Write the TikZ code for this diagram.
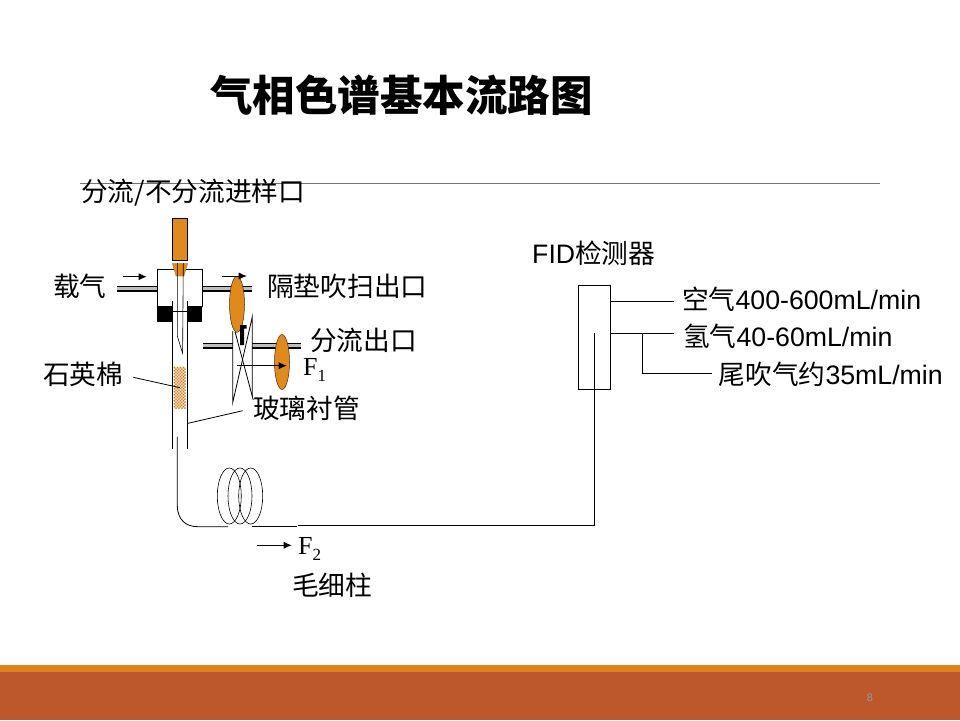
\documentclass[tikz,border=0pt]{standalone}
\usepackage{fontspec}
\usepackage{xcolor}
\usepackage{tikz}
\usetikzlibrary{arrows.meta,shapes.geometric}
\setmainfont{Liberation Sans}
\newfontfamily\cjk{Noto Sans CJK SC}
\newfontfamily\timesfont{Liberation Serif}
\definecolor{barorange}{HTML}{DF8419}
\definecolor{barbrown}{HTML}{BD582C}
\definecolor{partorange}{HTML}{E08A1E}
\newcommand{\flowsub}[1]{\raisebox{-5.5pt}{\fontsize{17}{17}\selectfont #1}}
\begin{document}
\begin{tikzpicture}[x=1pt,y=-1pt,
  label/.style={anchor=west,inner sep=0pt,font=\fontsize{26.7}{26.7}\selectfont},
  flow label/.style={label,font=\timesfont\fontsize{26}{26}\selectfont},
  flowarrow/.style={-{Latex[length=8pt,width=7pt]},line width=0.7pt},
  thin line/.style={line width=0.8pt},
  pipe/.style={draw=black,line width=1.4pt,double=black!25,double distance=3pt},
  valve/.style={ellipse,draw=black!70!partorange,fill=partorange,line width=0.5pt,inner sep=0pt}]
  \useasboundingbox (0,0) rectangle (960,720);
  \fill[barorange] (0,665) rectangle (960,672);
  \fill[barbrown] (0,672) rectangle (960,720);
  \node[inner sep=0pt,text=black!40,font=\fontsize{11}{11}\selectfont] (pagenum) at (870,698) {8};
  \draw[black!55,line width=0.7pt] (80,183) -- (880,183);
  \node[anchor=west,inner sep=0pt,font=\cjk\bfseries\fontsize{42.5}{42.5}\selectfont] (title) at (210,95) {气相色谱基本流路图};
  % injector
  \draw[pipe] (117,288.8) -- (157.3,288.8);
  \draw[pipe] (202.7,288.8) -- (251.7,288.8);
  \draw[pipe] (202.5,345.7) -- (232.7,345.7);
  \draw[pipe] (252.3,345.7) -- (301,345.7);
  \draw[thin line] (172.3,306) -- (157.3,306) -- (157.3,269.3) -- (202.7,269.3) -- (202.7,306) -- (187.7,306);
  \fill (157.3,306) rectangle (172.3,321.7);
  \fill (187.7,306) rectangle (202.4,321.7);
  \draw[line width=0.5pt,fill=partorange] (172.3,218.3) rectangle (187.7,260.3);
  \draw[line width=0.3pt,draw=partorange!80!black,fill=partorange] (172.3,263.3) -- (187.7,263.3) -- (184,276) -- (176,276) -- cycle;
  \draw[thin line] (172.5,300.7) -- (172.5,449.3) (187.5,300.7) -- (187.5,449.3) (172.5,311) -- (187.5,311);
  \draw[line width=0.6pt] (177.3,263) -- (177.3,336) -- (182.6,353.3) -- (183.3,263);
  \foreach \wx in {174.5,177.5,...,186}
    \foreach \wy in {367.5,370.5,...,407}
      \fill[partorange!90!black] (\wx,\wy) circle (1) (\wx+1.5,\wy+1.5) circle (1);
  % split vent
  \draw[thin line] (232.7,331) -- (232.7,402.7) -- (252.3,316.7) -- (252.3,396.7);
  \draw[thin line] (235,331.7) -- (253.3,400);
  \node[valve,minimum width=15pt,minimum height=56pt] (septumvalve) at (237,304.3) {};
  \node[valve,minimum width=15pt,minimum height=55pt] (splitvalve) at (282,362) {};
  \fill (240,325) rectangle (244,345) (240,325) rectangle (246.7,328.5);
  \coordinate (splitflow) at (237.3,365.7);
  \coordinate (splitend) at (286.7,365.7);
  \draw[flowarrow] (splitflow) -- (splitend);
  \draw[flowarrow] (122.7,276.7) -- (146.7,276.7);
  \draw[flowarrow] (222.3,276) -- (246.7,276);
  % column
  \coordinate (coilin) at (228,526.7);
  \coordinate (coilout) at (251.7,526);
  \draw[thin line] (177.3,436.7) -- (177.3,505) .. controls (177.3,520) and (186,526.7) .. (198,526.7) -- (coilin);
  \foreach \cx in {229.3,240,250.7}
    \draw[line width=0.6pt] (\cx,496) ellipse (12 and 28);
  \draw[thin line] (coilout) -- (296.7,526);
  % detector
  \node[draw,thin line,minimum width=32.4pt,minimum height=104pt,inner sep=0pt] (det) at (594.5,337.3) {};
  \coordinate (detin) at (594.5,333.3);
  \coordinate (airend) at (674.3,301.3);
  \coordinate (hydend) at (674.3,333);
  \coordinate (makeup) at (642.3,333);
  \draw[thin line] (298.3,525) -- (594.5,525) -- (detin);
  \draw[thin line] (det.east |- airend) -- (airend);
  \draw[thin line] (det.east |- hydend) -- (hydend);
  \draw[thin line] (makeup) -- (642.3,373.3) -- (712,373.3);
  % labels
  \node[label] (carrier) at (53,286) {\cjk 载气};
  \node[label] (septum) at (267,286) {\cjk 隔垫吹扫出口};
  \node[label] (split) at (310,340) {\cjk 分流出口};
  \node[label] (wool) at (43,374) {\cjk 石英棉};
  \node[label] (liner) at (253,408) {\cjk 玻璃衬管};
  \node[label] (inlet) at (81,192.5) {\cjk 分流/不分流进样口};
  \node[label] (fid) at (532,253) {FID{\cjk 检测器}};
  \node[label] (air) at (682,299) {{\cjk 空气}400-600mL/min};
  \node[label] (hyd) at (683,336) {{\cjk 氢气}40-60mL/min};
  \node[label] (tail) at (718.5,374) {{\cjk 尾吹气约}35mL/min};
  \node[label] (capillary) at (292,585) {\cjk 毛细柱};
  \node[flow label] (fone) at (303,370) {F\flowsub{1}};
  \node[flow label] (ftwo) at (298,549) {F\flowsub{2}};
  \draw[flowarrow] (257.3,545.3) -- (291.7,545.3);
  \draw[thin line] (133.3,377.3) -- (180,387.7);
  \draw[thin line] (188,423.3) -- (242.7,410.7);
\end{tikzpicture}
\end{document}
